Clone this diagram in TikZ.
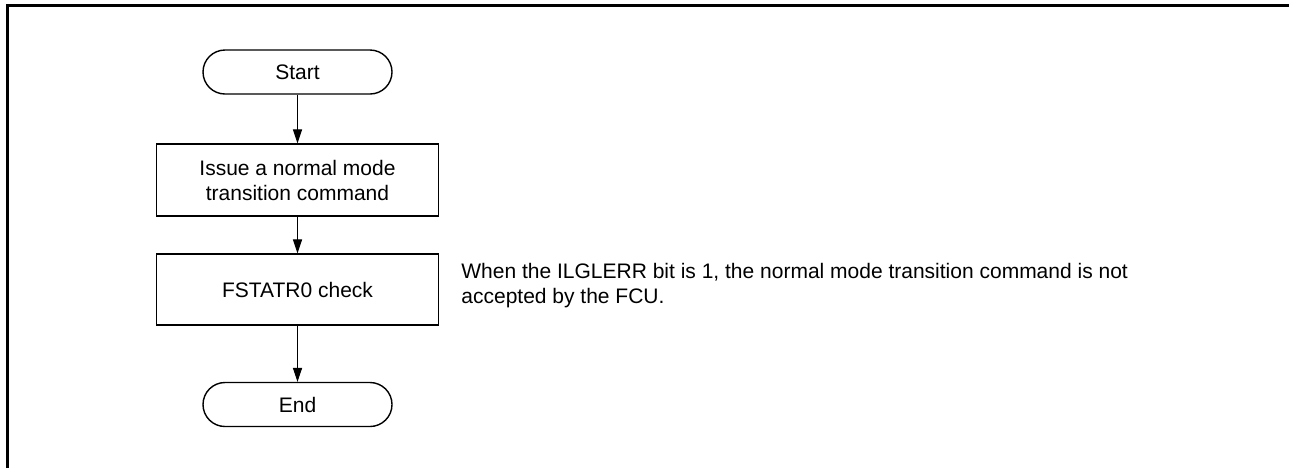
\documentclass[tikz,border=0pt]{standalone}
\usepackage{fontspec}
\setmainfont{Liberation Sans}
\usetikzlibrary{arrows.meta}

\begin{document}
\begin{tikzpicture}[
        x=0.5pt, y=-0.5pt,
        >={Triangle[length=7pt, width=4.6pt]},
        font=\fontsize{10.5}{12.5}\selectfont,
        box/.style={draw, line width=0.7pt, align=center, minimum width=141pt, minimum height=36pt, inner sep=2pt},
        terminal/.style={box, rounded corners=11pt, minimum width=94.5pt, minimum height=22pt},
        note/.style={align=left, inner sep=0pt, anchor=north west},
        flow/.style={->, line width=0.5pt},
        frame/.style={line width=1.5pt}
    ]
        \useasboundingbox (0,0) rectangle (1289,468);
        \draw[frame] (7.5,468) -- (7.5,5.5) -- (1289,5.5);

        \node[terminal] (start) at (297.5,72) {Start};
        \node[box] (issue) at (297.5,180) {Issue a normal mode\\transition command};
        \node[box, minimum height=35.5pt] (check) at (297.5,289.5) {FSTATR0 check};
        \node[terminal] (end) at (297.5,404.5) {End};

        \node[note] (note) at (461,262.5) {When the ILGLERR bit is 1, the normal mode transition command is not\\accepted by the FCU.};

        \draw[flow] (start) -- (issue);
        \draw[flow] (issue) -- (check);
        \draw[flow] (check) -- (end);
\end{tikzpicture}
\end{document}
